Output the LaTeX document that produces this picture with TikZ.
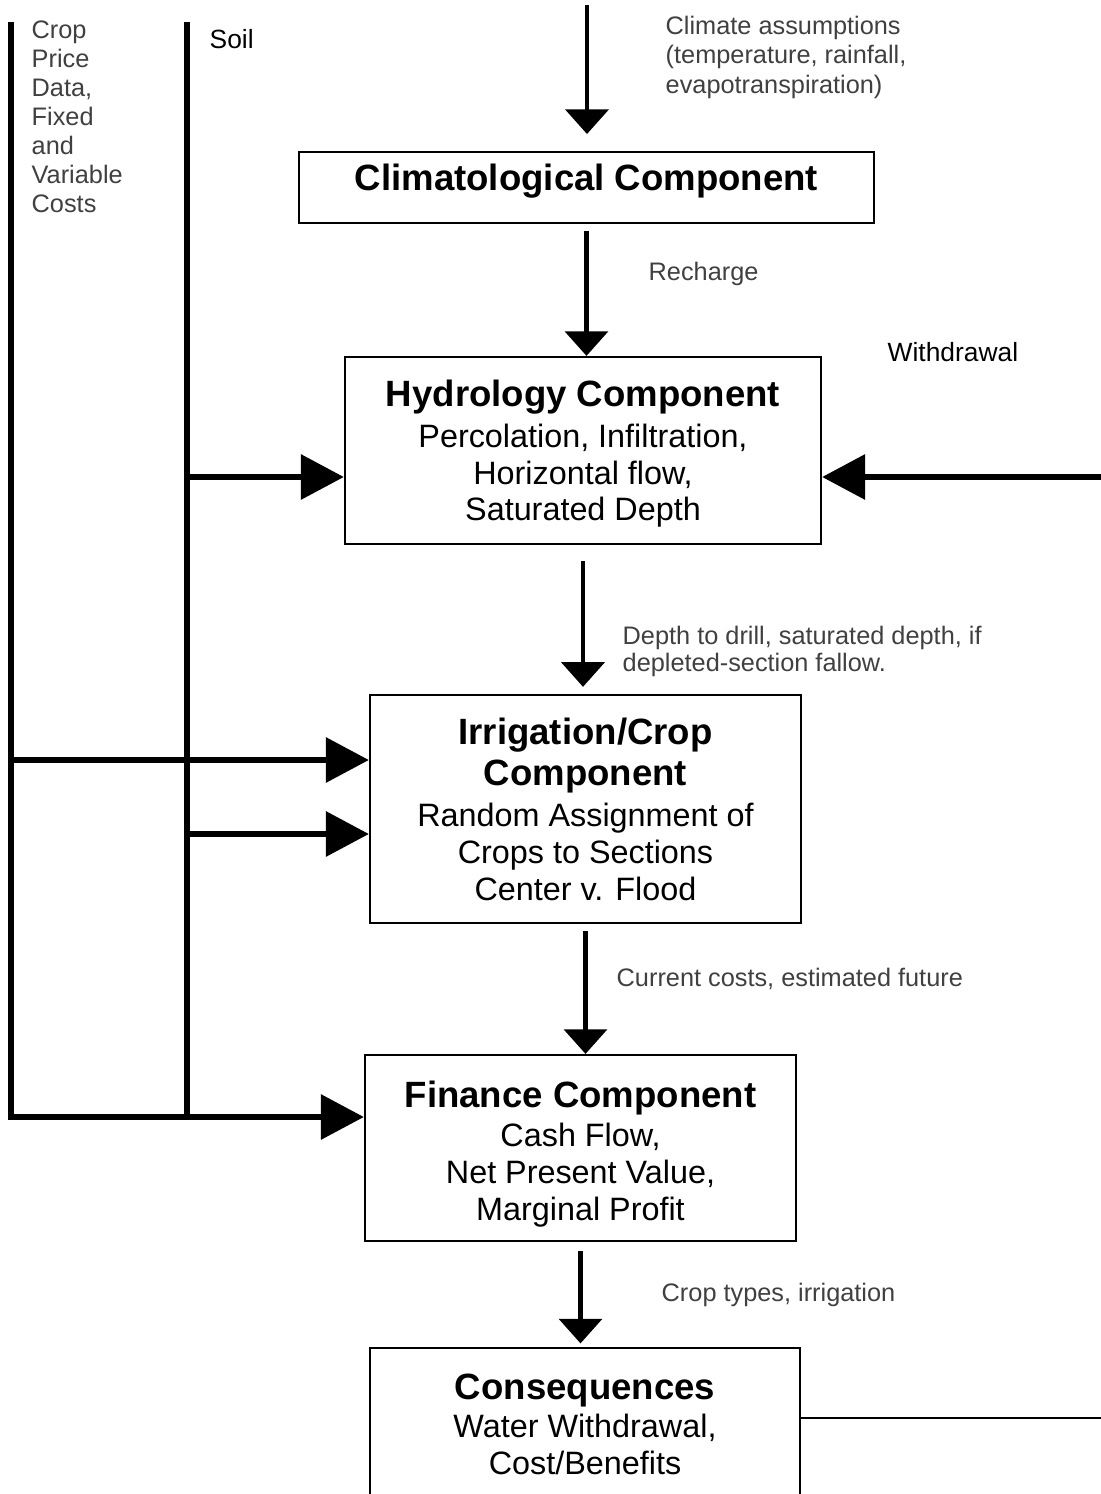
\documentclass[tikz,border=0pt]{standalone}
\usepackage{fontspec}
\setmainfont{Liberation Sans}
\usetikzlibrary{arrows.meta}

\newcommand\compname[1]{{\bfseries\fontsize{10.4}{12}\selectfont #1}}

\tikzset{
  comp/.style={draw, line width=0.6pt, align=center, inner sep=0pt,
    font=\fontsize{9.2}{10.5}\selectfont},
  flow/.style={-{Triangle[length=7pt,width=12.2pt]}, line width=1.15pt},
  feed/.style={-{Triangle[length=12.2pt,width=12.6pt]}, line width=1.5pt},
  trunk/.style={line width=1.5pt},
  note/.style={inner sep=0pt, align=left, text=black!75,
    font=\fontsize{7.2}{8.5}\selectfont},
  input/.style={inner sep=0pt, font=\fontsize{7.5}{9}\selectfont},
}

\begin{document}
\begin{tikzpicture}[x=0.01cm,y=-0.01cm]
  \clip (0,0) rectangle (1101,1494);

  % model components
  \node[comp,minimum width=5.75cm,minimum height=0.71cm,text depth=5.7pt] (clim) at (586.5,187.5)
    {\compname{Climatological Component}};
  \node[comp,minimum width=4.76cm,minimum height=1.87cm] (hydro) at (583,450.5)
    {\rule{0pt}{9.5pt}\compname{Hydrology Component}\\[1pt]Percolation, Infiltration,\\Horizontal flow,\\Saturated Depth};
  \node[comp,minimum width=4.31cm,minimum height=2.28cm] (irrig) at (585.5,809)
    {\compname{Irrigation/Crop}\\[1.2pt]\compname{Component}\\[1.2pt]Random Assignment of\\Crops to Sections\\Center v. Flood};
  \node[comp,minimum width=4.31cm,minimum height=1.86cm] (finance) at (580.5,1148)
    {\rule{0pt}{11pt}\compname{Finance Component}\\[0.4pt]Cash Flow,\\Net Present Value,\\Marginal Profit};
  \node[comp,minimum width=4.30cm,minimum height=1.62cm] (conseq) at (585,1429)
    {\compname{Consequences}\\[0.5pt]Water Withdrawal,\\Cost/Benefits\rule[-2.8pt]{0pt}{1pt}};

  % labels
  \node[note,anchor=north west] (climate note) at (665,15)
    {Climate assumptions\\(temperature, rainfall,\\evapotranspiration)};
  \node[note,anchor=base west] (recharge) at (648,280) {Recharge};
  \node[input,anchor=base west] (withdrawal) at (887,361) {Withdrawal};
  \node[note,anchor=north west,font=\fontsize{7.2}{7.7}\selectfont] (depth note) at (622,625)
    {Depth to drill, saturated depth, if\\depleted-section fallow.};
  \node[note,anchor=base west] (cost note) at (616,986) {Current costs, estimated future};
  \node[note,anchor=base west] (crop note) at (661,1301) {Crop types, irrigation};
  \node[note,anchor=north west,font=\fontsize{7.2}{8.25}\selectfont] (price note) at (31,20)
    {Crop\\Price\\Data,\\Fixed\\and\\Variable\\Costs};
  \node[input,anchor=base west] (soil) at (209,49) {Soil};

  % vertical flow
  \coordinate (climate in) at (587,5);
  \draw[flow,shorten >=4.8pt] (climate in) -- (climate in |- clim.north);
  \draw[flow,shorten <=2pt] (clim.south) -- (clim.south |- hydro.north);
  \draw[flow,shorten <=4.5pt,shorten >=2pt] (hydro.south) -- (hydro.south |- irrig.north);
  \draw[flow,shorten <=2pt] (irrig.south) -- (irrig.south |- finance.north);
  \draw[flow,shorten <=2.5pt,shorten >=1pt] (finance.south) -- (finance.south |- conseq.north);

  % price and soil inputs
  \coordinate (price top) at (11,22);
  \coordinate (price foot) at (11,1117);
  \coordinate (price crop) at (11,760);
  \coordinate (soil top) at (187,22);
  \coordinate (soil foot) at (187,1117);
  \coordinate (soil hydro) at (187,477);
  \coordinate (soil crop) at (190,834);
  \draw[feed] (price top) -- (price foot) -- (price foot -| finance.west);
  \draw[trunk] (soil top) -- (soil foot);
  \draw[feed] (price crop) -- (price crop -| irrig.west);
  \draw[feed] (soil crop) -- (soil crop -| irrig.west);
  \draw[feed] (soil hydro) -- (soil hydro -| hydro.west);

  % withdrawal loop
  \coordinate (withdraw in) at (1101,477);
  \coordinate (withdraw out) at (1101,1418);
  \draw[feed] (withdraw in) -- (withdraw in -| hydro.east);
  \draw[line width=0.6pt] (withdraw out -| conseq.east) -- (withdraw out);
\end{tikzpicture}
\end{document}
